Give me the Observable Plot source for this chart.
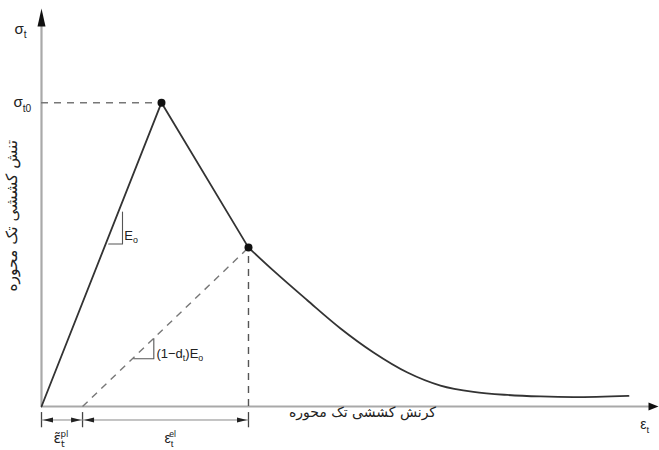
<!DOCTYPE html>
<html>
<head>
<meta charset="utf-8">
<script src="https://cdn.jsdelivr.net/npm/d3@7"></script>
<script src="https://cdn.jsdelivr.net/npm/@observablehq/plot@0.6"></script>
<style>
  html, body { margin: 0; padding: 0; background: #fff; }
  svg { display: block; }
</style>
</head>
<body>
<script>
// ---- data (normalized strain / stress units; peak = (1, 1)) ----
const loadingCurve = [ // strain, stress : elastic branch up to peak, then linear drop
  [0, 0], [1, 1], [1.725, 0.523]
];
const softeningCurve = [ // strain, stress : post-peak softening tail
  [1.725, 0.523], [1.933, 0.447], [2.217, 0.349], [2.492, 0.257],
  [2.767, 0.178], [3.05, 0.112], [3.325, 0.069], [3.6, 0.048],
  [3.883, 0.038], [4.158, 0.033], [4.433, 0.031], [4.892, 0.035]
];
const peakPoint = [1, 1];
const unloadPoint = [1.725, 0.523];
const plasticStrain = 0.342;
const slopeTriE0 = [[0.56, 0.535], [0.675, 0.535], [0.675, 0.64]];
const slopeTriDamaged = [[0.769, 0.157], [0.936, 0.157], [0.936, 0.224]];
const xMax = 5.142, yMax = 1.31;

const symbolLabels = [
  {x: 0, y: 1.243, text: "σ_{t}", dx: -27, size: 15, font: null},
  {x: 0, y: 1.0, text: "σ_{t0}", dx: -28, size: 15, font: null},
  {x: 0.69, y: 0.5625, text: "E_{o}", dx: 0, size: 13, font: null},
  {x: 0.958, y: 0.174, text: "(1−d_{t})E_{o}", dx: 0, size: 13, font: null},
  {x: 0.1, y: -0.105, text: "ε̃_{t}^{pl}", dx: 0, size: 14, font: "DejaVu Sans, sans-serif"},
  {x: 1.025, y: -0.105, text: "ε_{t}^{el}", dx: 0, size: 14, font: null},
  {x: 4.99, y: -0.059, text: "ε_{t}", dx: 0, size: 14, font: null}
];
const xTitle = "کرنش کششی تک محوره";
const yTitle = "تنش کششی تک محوره";

// ---- arrowhead symbols (tip at the anchor point) ----
const headUp = {draw(c) { c.moveTo(0, 0); c.lineTo(-4, 18); c.lineTo(4, 18); c.closePath(); }};
const headRightBig = {draw(c) { c.moveTo(0, 0); c.lineTo(-10, -4); c.lineTo(-10, 4); c.closePath(); }};
const headRight = {draw(c) { c.moveTo(0, 0); c.lineTo(-10, -2.5); c.lineTo(-10, 2.5); c.closePath(); }};
const headLeft = {draw(c) { c.moveTo(0, 0); c.lineTo(10, -2.5); c.lineTo(10, 2.5); c.closePath(); }};

const dimY = -0.0444;
const tickXs = [0, plasticStrain, unloadPoint[0]];
const dimSegments = [
  {x1: 0, x2: plasticStrain},
  {x1: plasticStrain, x2: unloadPoint[0]}
];
const gapPx = 1.5 / 120;
const dimHeadsL = [{x: 0 + gapPx}, {x: plasticStrain + gapPx}];
const dimHeadsR = [{x: plasticStrain - gapPx}, {x: unloadPoint[0] - gapPx}];

const dash = "7,6";
const font = "Liberation Sans, Arial, DejaVu Sans, sans-serif";

const chart = Plot.plot({
  width: 659,
  height: 450,
  marginLeft: 41,
  marginRight: 1,
  marginTop: 8,
  marginBottom: 44,
  x: {domain: [0, xMax], axis: null},
  y: {domain: [0, yMax], axis: null},
  style: {fontFamily: font, background: "#fff", overflow: "visible"},
  marks: [
    // axes
    Plot.ruleY([0], {x1: 0, x2: xMax - 0.06, stroke: "#a9a9a9", strokeWidth: 2}),
    Plot.ruleX([0], {y1: 0, y2: yMax - 0.04, stroke: "#a9a9a9", strokeWidth: 2.2}),
    Plot.dot([[0, yMax]], {x: d => d[0], y: d => d[1], symbol: headUp, fill: "#111", stroke: "none", r: 1}),
    Plot.dot([[xMax, 0]], {x: d => d[0], y: d => d[1], symbol: headRightBig, fill: "#111", stroke: "none", r: 1}),
    // dashed guides
    Plot.ruleY([peakPoint[1]], {x1: 0, x2: peakPoint[0], stroke: "#777", strokeWidth: 1.4, strokeDasharray: dash}),
    Plot.link([{}], {x1: plasticStrain, y1: 0, x2: unloadPoint[0], y2: unloadPoint[1], stroke: "#777", strokeWidth: 1.4, strokeDasharray: dash}),
    Plot.ruleX([unloadPoint[0]], {y1: 0, y2: unloadPoint[1], stroke: "#555", strokeWidth: 1.4, strokeDasharray: dash}),
    // stress-strain curve
    Plot.line(loadingCurve, {x: d => d[0], y: d => d[1], stroke: "#333", strokeWidth: 1.8}),
    Plot.line(softeningCurve, {x: d => d[0], y: d => d[1], stroke: "#333", strokeWidth: 1.8, curve: "monotone-x"}),
    Plot.dot([peakPoint, unloadPoint], {x: d => d[0], y: d => d[1], r: 4, fill: "#111", stroke: "none"}),
    // slope triangles
    Plot.line(slopeTriE0, {x: d => d[0], y: d => d[1], stroke: "#555", strokeWidth: 1.1}),
    Plot.line(slopeTriDamaged, {x: d => d[0], y: d => d[1], stroke: "#555", strokeWidth: 1.1}),
    // dimension lines below axis
    Plot.ruleX(tickXs, {y1: -0.02, y2: -0.07, stroke: "#444", strokeWidth: 1.3}),
    Plot.link(dimSegments, {x1: "x1", x2: "x2", y1: dimY, y2: dimY, stroke: "#888", strokeWidth: 1}),
    Plot.dot(dimHeadsL, {x: "x", y: dimY, symbol: headLeft, fill: "#222", stroke: "none", r: 1}),
    Plot.dot(dimHeadsR, {x: "x", y: dimY, symbol: headRight, fill: "#222", stroke: "none", r: 1}),
    // labels
    ...symbolLabels.map(l => Plot.text([l], {x: "x", y: "y", text: "text", dx: l.dx, textAnchor: "start", fontSize: l.size, fill: "#222", lineAnchor: "middle", ...(l.font ? {fontFamily: l.font} : {})})),
    Plot.text([xTitle], {x: 2.675, y: -0.02, text: d => d, fontSize: 14, fill: "#222", fontFamily: "DejaVu Sans, sans-serif", lineAnchor: "middle"}),
    Plot.text([yTitle], {x: -0.242, y: 0.628, text: d => d, fontSize: 15.5, fill: "#222", rotate: -90, fontFamily: "DejaVu Sans, sans-serif", lineAnchor: "middle"})
  ]
});
document.body.append(chart);

// convert _{..} / ^{..} markup into sub/superscript tspans
chart.querySelectorAll("text").forEach(t => {
  const s = t.textContent;
  if (!/[_^]\{/.test(s)) return;
  const fs = parseFloat(getComputedStyle(t).fontSize) || 14;
  t.textContent = "";
  const re = /([_^])\{([^}]*)\}|([^_^]+)/g;
  let m, shift = 0, prevSub = null;
  while ((m = re.exec(s))) {
    const ts = document.createElementNS("http://www.w3.org/2000/svg", "tspan");
    let target;
    if (m[1] === "_") { target = 0.28 * fs; ts.setAttribute("font-size", (0.68 * fs) + "px"); ts.textContent = m[2]; }
    else if (m[1] === "^") {
      target = -0.42 * fs; ts.setAttribute("font-size", (0.62 * fs) + "px"); ts.textContent = m[2];
      if (prevSub) ts.setAttribute("dx", (-0.3 * fs) + "px");
    }
    else { target = 0; ts.textContent = m[3]; }
    if (target !== shift) ts.setAttribute("dy", (target - shift) + "px");
    shift = target;
    prevSub = m[1] === "_" ? ts : null;
    t.appendChild(ts);
  }
});
</script>
</body>
</html>
